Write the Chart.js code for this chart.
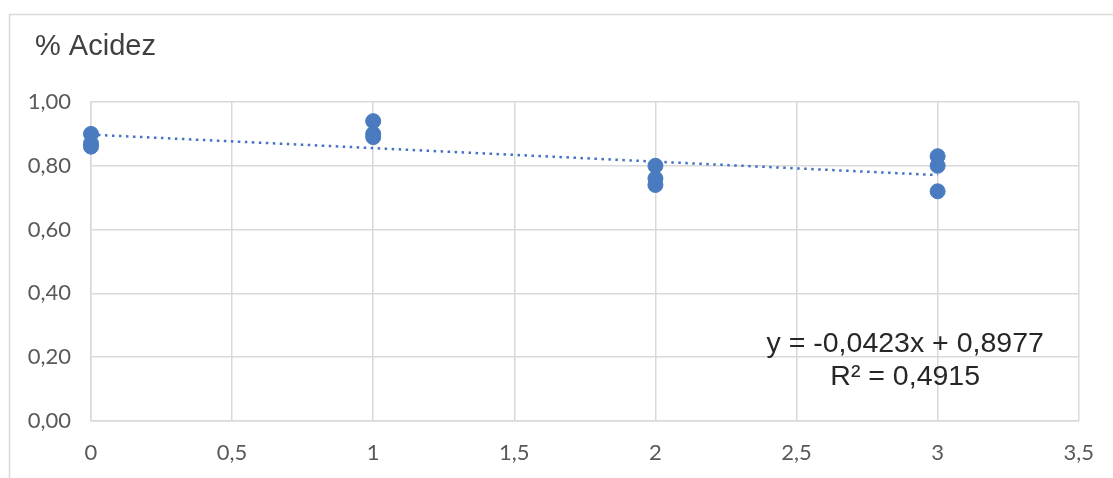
<!DOCTYPE html>
<html>
<head>
<meta charset="utf-8">
<script src="https://cdn.jsdelivr.net/npm/chart.js@4.4.0/dist/chart.umd.min.js"></script>
<style>
  html, body { margin: 0; padding: 0; background: #fff; }
  #wrap { width: 1113px; height: 478px; position: relative; }
</style>
</head>
<body>
<div id="wrap"><canvas id="myChart" width="1113" height="478"></canvas></div>
<script>
// días de almacenamiento vs % acidez
const xDays = [0, 0, 0, 1, 1, 1, 2, 2, 2, 3, 3, 3];
const acidity = [0.90, 0.87, 0.86, 0.94, 0.90, 0.89, 0.80, 0.76, 0.74, 0.83, 0.80, 0.72];

// linea de tendencia (Excel)
const trendSlope = -0.0423;
const trendIntercept = 0.8977;
const trendX = [0, 3];
const equationLines = ['y = -0,0423x + 0,8977', 'R² = 0,4915'];
const chartTitle = '% Acidez';

const points = xDays.map((x, i) => ({ x: x, y: acidity[i] }));
const trend = trendX.map(x => ({ x: x, y: trendIntercept + trendSlope * x }));

const frame = {
  id: 'frame',
  beforeDraw(chart) {
    const c = chart.ctx;
    c.save();
    c.fillStyle = '#fff';
    c.fillRect(0, 0, chart.width, chart.height);
    c.strokeStyle = '#d9d9d9';
    c.lineWidth = 1.5;
    c.beginPath();
    c.moveTo(9.5, chart.height);
    c.lineTo(9.5, 14.5);
    c.lineTo(chart.width, 14.5);
    c.stroke();
    c.fillStyle = '#404040';
    c.font = '29px "Liberation Sans", Arial, sans-serif';
    c.textBaseline = 'middle';
    c.fillText(chartTitle, 35, 47);
    c.restore();
  },
  afterDatasetsDraw(chart) {
    const c = chart.ctx;
    const xs = chart.scales.x, ys = chart.scales.y;
    c.save();
    c.fillStyle = '#262626';
    c.font = '28.5px "Liberation Sans", Arial, sans-serif';
    c.textAlign = 'center';
    c.textBaseline = 'middle';
    const cx = xs.getPixelForValue(2.885);
    c.fillText(equationLines[0], cx, ys.getPixelForValue(0.242));
    c.fillText(equationLines[1], cx, ys.getPixelForValue(0.138));
    c.restore();
  }
};

const ctx = document.getElementById('myChart').getContext('2d');
new Chart(ctx, {
  type: 'scatter',
  data: {
    datasets: [{
      label: '% Acidez',
      data: points,
      backgroundColor: '#4a7bc0',
      borderColor: '#4a7bc0',
      pointRadius: 7.5,
      pointHoverRadius: 7.5,
      clip: false
    }, {
      type: 'line',
      label: 'Tendencia',
      data: trend,
      borderColor: '#4472c4',
      borderWidth: 2.5,
      borderDash: [2.5, 4.5],
      pointRadius: 0,
      fill: false
    }]
  },
  options: {
    responsive: false,
    animation: false,
    layout: { padding: { left: 0, right: 32, top: 102, bottom: 0 } },
    plugins: {
      legend: { display: false },
      title: { display: false },
      tooltip: { enabled: false }
    },
    scales: {
      x: {
        type: 'linear',
        min: 0,
        max: 3.5,
        ticks: {
          stepSize: 0.5,
          padding: 19,
          color: '#595959',
          font: { family: 'Lato, "Open Sans", sans-serif', size: 22 },
          callback: v => String(v).replace('.', ',')
        },
        grid: { color: '#d9d9d9', lineWidth: 1.5, drawTicks: false },
        border: { color: '#d9d9d9', width: 1.5 },
        afterFit: s => { s.height = 57; }
      },
      y: {
        min: 0,
        max: 1,
        ticks: {
          stepSize: 0.2,
          padding: 20,
          color: '#595959',
          font: { family: 'Lato, "Open Sans", sans-serif', size: 22 },
          callback: v => v.toFixed(2).replace('.', ',')
        },
        grid: { color: '#d9d9d9', lineWidth: 1.5, drawTicks: false },
        border: { color: '#d9d9d9', width: 1.5 },
        afterFit: s => { s.width = 91; }
      }
    }
  },
  plugins: [frame]
});
</script>
</body>
</html>
